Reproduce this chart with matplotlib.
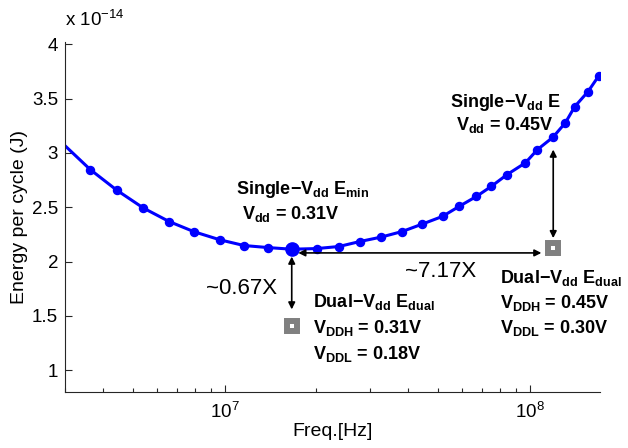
import numpy as np
import matplotlib
matplotlib.use("Agg")
import matplotlib.pyplot as plt

plt.rcParams['font.family'] = ['Liberation Sans', 'DejaVu Sans']
plt.rcParams['mathtext.fontset'] = 'custom'
plt.rcParams['mathtext.rm'] = 'Liberation Sans'
plt.rcParams['mathtext.it'] = 'Liberation Sans:italic'
plt.rcParams['mathtext.bf'] = 'Liberation Sans:bold'

# single-Vdd sweep: frequency (Hz) and energy per cycle (x 1e-14 J)
freq = [2.45e6, 3.63e6, 4.44e6, 5.42e6, 6.58e6, 7.96e6, 9.67e6, 1.158e7, 1.391e7,
        1.66e7, 2.004e7, 2.37e7, 2.777e7, 3.253e7, 3.819e7, 4.442e7, 5.178e7,
        5.87e7, 6.69e7, 7.49e7, 8.43e7, 9.68e7, 1.06e8, 1.192e8, 1.309e8,
        1.404e8, 1.552e8, 1.682e8]
energy = [3.30, 2.847, 2.656, 2.493, 2.369, 2.274, 2.200, 2.148, 2.129,
          2.114, 2.120, 2.139, 2.185, 2.225, 2.277, 2.345, 2.416,
          2.508, 2.600, 2.693, 2.801, 2.909, 3.031, 3.145, 3.278,
          3.426, 3.564, 3.708]

emin_f, emin_e = 1.66e7, 2.114
dual_f = [1.66e7, 1.192e8]
dual_e = [1.406, 2.124]

fig = plt.figure(figsize=(6.28, 4.48), dpi=100)
ax = fig.add_axes([0.1035, 0.125, 0.852, 0.781])

ax.plot(freq, energy, '-o', color='#0000ff', lw=2.2, ms=5.8, mfc='#0000ff', mec='#0000ff')
ax.plot(emin_f, emin_e, 'o', color='#0000ff', ms=9.5)
ax.plot(dual_f, dual_e, 's', ms=7.9, mfc='white', mec='#808080', mew=4.3, ls='none')

ax.set_xscale('log')
ax.set_xlim(3e6, 1.7e8)
ax.set_ylim(0.8, 4.02)
ax.set_yticks([1, 1.5, 2, 2.5, 3, 3.5, 4])
ax.set_yticklabels(['1', '1.5', '2', '2.5', '3', '3.5', '4'])

for s in ['top', 'right']:
    ax.spines[s].set_visible(False)
for s in ['left', 'bottom']:
    ax.spines[s].set_color('#262626')
    ax.spines[s].set_linewidth(0.8)
ax.tick_params(which='both', direction='in', colors='#262626', labelcolor='black', labelsize=13.5)
ax.tick_params(which='major', length=5, width=0.8)
ax.tick_params(which='minor', length=3, width=0.8)
ax.tick_params(axis='x', pad=7)
ax.tick_params(axis='y', pad=5)

ax.set_xlabel('Freq.[Hz]', fontsize=14, labelpad=1)
ax.set_ylabel('Energy per cycle (J)', fontsize=14, labelpad=3)
ax.text(0.0, 1.035, r'x 10$^{-14}$', transform=ax.transAxes, fontsize=13.5, ha='left', va='bottom')

arrow = dict(arrowstyle='<|-|>', color='black', lw=1.2, mutation_scale=10, shrinkA=0, shrinkB=0)
ax.annotate('', xy=(1.66e7, 1.56), xytext=(1.66e7, 2.046), arrowprops=arrow)
ax.annotate('', xy=(1.092e8, 2.08), xytext=(1.744e7, 2.08), arrowprops=arrow)
ax.annotate('', xy=(1.194e8, 2.216), xytext=(1.194e8, 3.031), arrowprops=arrow)

bold = dict(fontsize=13, fontweight='bold', ha='left', va='baseline')
ax.text(1.09e7, 2.622, 'Single\u2212$\\mathbf{V_{dd}}$ $\\mathbf{E_{min}}$', **bold)
ax.text(1.141e7, 2.39, '$\\mathbf{V_{dd}}$ = 0.31V', **bold)
ax.text(5.47e7, 3.426, 'Single\u2212$\\mathbf{V_{dd}}$ E', **bold)
ax.text(5.72e7, 3.21, '$\\mathbf{V_{dd}}$ = 0.45V', **bold)
ax.text(1.944e7, 1.579, 'Dual\u2212$\\mathbf{V_{dd}}$ $\\mathbf{E_{dual}}$', **bold)
ax.text(1.944e7, 1.339, '$\\mathbf{V_{DDH}}$ = 0.31V', **bold)
ax.text(1.944e7, 1.108, '$\\mathbf{V_{DDL}}$ = 0.18V', **bold)
ax.text(7.98e7, 1.80, 'Dual\u2212$\\mathbf{V_{dd}}$ $\\mathbf{E_{dual}}$', **bold)
ax.text(7.98e7, 1.57, '$\\mathbf{V_{DDH}}$ = 0.45V', **bold)
ax.text(7.98e7, 1.339, '$\\mathbf{V_{DDL}}$ = 0.30V', **bold)

ax.text(1.137e7, 1.757, '~0.67X', fontsize=16, ha='center', va='center')
ax.text(5.1e7, 1.908, '~7.17X', fontsize=16, ha='center', va='center')

fig.savefig('out.png', dpi=100)
